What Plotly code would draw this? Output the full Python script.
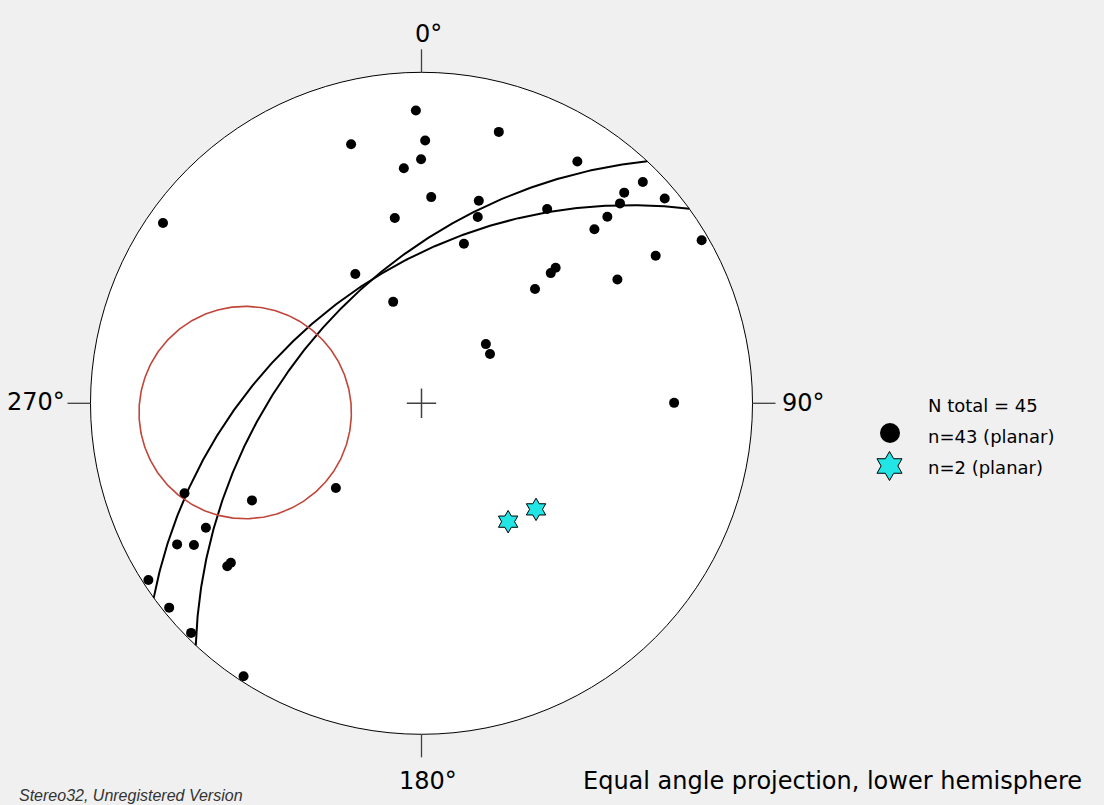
import numpy as np
import plotly.graph_objects as go

# Poles to planes, group 1 (trend, plunge in degrees)
pole_trend = [358.9, 344.8, 0.8, 15.9, 359.9, 355.7, 2.7, 15.8, 16.8, 351.8,
              14.9, 332.9, 344.4, 32.8, 45.0, 43.9, 44.8, 49.9, 32.9, 44.9,
              44.8, 59.8, 57.8, 44.7, 44.8, 44.8, 57.7, 304.9, 47.4, 54.3,
              89.9, 225.3, 249.2, 240.2, 240.0, 240.0, 238.1, 230.0, 230.1, 237.1,
              231.0, 225.1, 213.1]
pole_plunge = [7.0, 11.9, 13.1, 9.1, 17.2, 19.1, 26.1, 25.1, 29.1, 31.0,
               37.0, 42.6, 54.7, 8.0, 3.2, 7.1, 9.2, 2.3, 20.1, 13.0,
               16.9, 1.2, 10.2, 30.1, 32.0, 38.1, 20.0, 2.8, 60.4, 61.4,
               15.3, 50.0, 15.1, 28.9, 16.1, 9.1, 12.0, 15.1, 16.2, 1.0,
               1.1, 1.0, 0.9]

# Poles to planes, group 2
star_trend = [143.8, 132.8]
star_plunge = [42.2, 39.5]

# Great circles (dip direction / dip)
plane_dipdir = [313.0, 324.0]
plane_dip = [49.0, 47.0]

# Small circle: cone axis and half-apex angle
cone_trend = 267.0
cone_plunge = 37.5
cone_angle = 28.5

cardinal_az = [0, 90, 180, 270]
cardinal_labels = ["0°", "90°", "180°", "270°"]

legend_lines = ["N total = 45", "n=43 (planar)", "n=2 (planar)"]

# ---- page geometry (pixels) ----
W, H = 1104, 805
CX, CY, RPX = 421.5, 403.3, 331.0


def px(x):
    return (x - CX) / RPX


def py(y):
    return (CY - y) / RPX


def project(trend, plunge):
    """Equal-angle (Wulff) lower-hemisphere projection on a unit primitive."""
    t = np.radians(np.asarray(trend, float))
    p = np.radians(np.asarray(plunge, float))
    r = np.tan((np.pi / 2 - p) / 2)
    return r * np.sin(t), r * np.cos(t)


def vec_to_tp(v):
    v = np.asarray(v, float)
    v = np.where(v[2] < 0, -v, v)
    plunge = np.degrees(np.arcsin(np.clip(v[2], -1, 1)))
    trend = np.degrees(np.arctan2(v[1], v[0]))
    return trend, plunge


def great_circle(dipdir, dip):
    dd, dp = np.radians(dipdir), np.radians(dip)
    st = dd - np.pi / 2
    s = np.array([np.cos(st), np.sin(st), 0.0])
    d = np.array([np.cos(dd) * np.cos(dp), np.sin(dd) * np.cos(dp), np.sin(dp)])
    a = np.radians(np.linspace(0, 180, 361))
    v = np.outer(s, np.cos(a)) + np.outer(d, np.sin(a))
    return project(*vec_to_tp(v))


def small_circle(trend, plunge, half):
    t, p, c = np.radians(trend), np.radians(plunge), np.radians(half)
    u = np.array([np.cos(p) * np.cos(t), np.cos(p) * np.sin(t), np.sin(p)])
    v = np.cross(u, [0, 0, 1.0])
    v /= np.linalg.norm(v)
    w = np.cross(u, v)
    phi = np.radians(np.linspace(0, 360, 361))
    pts = (np.cos(c) * u[:, None]
           + np.sin(c) * (np.outer(v, np.cos(phi)) + np.outer(w, np.sin(phi))))
    return project(*vec_to_tp(pts))


fig = go.Figure()

# great circles
for dd, dp in zip(plane_dipdir, plane_dip):
    gx, gy = great_circle(dd, dp)
    fig.add_trace(go.Scatter(x=gx, y=gy, mode="lines",
                             line=dict(color="black", width=2),
                             hoverinfo="skip", showlegend=False))

# small circle
sx, sy = small_circle(cone_trend, cone_plunge, cone_angle)
fig.add_trace(go.Scatter(x=sx, y=sy, mode="lines",
                         line=dict(color="#c0463a", width=1.6),
                         hoverinfo="skip", showlegend=False))

# poles
ex, ey = project(pole_trend, pole_plunge)
fig.add_trace(go.Scatter(x=ex, y=ey, mode="markers",
                         marker=dict(color="black", size=10, symbol="circle"),
                         showlegend=False))

tx, ty = project(star_trend, star_plunge)
fig.add_trace(go.Scatter(x=tx, y=ty, mode="markers",
                         marker=dict(color="#22e6e6", size=17, symbol="hexagram",
                                     line=dict(color="black", width=1)),
                         showlegend=False))

# centre cross
fig.add_trace(go.Scatter(x=[0], y=[0], mode="markers",
                         marker=dict(symbol="cross-thin", size=21,
                                     line=dict(color="#404040", width=1.5)),
                         hoverinfo="skip", showlegend=False))

# legend symbols
fig.add_trace(go.Scatter(x=[px(890)], y=[py(433)], mode="markers",
                         marker=dict(color="black", size=20, symbol="circle"),
                         hoverinfo="skip", showlegend=False))
fig.add_trace(go.Scatter(x=[px(889.5)], y=[py(466)], mode="markers",
                         marker=dict(color="#22e6e6", size=22, symbol="hexagram",
                                     line=dict(color="black", width=1)),
                         hoverinfo="skip", showlegend=False))

shapes = [dict(type="circle", xref="x", yref="y", x0=-1, y0=-1, x1=1, y1=1,
               fillcolor="white", line=dict(color="black", width=1), layer="below")]
tick_len = 23 / RPX
for az in cardinal_az:
    a = np.radians(az)
    shapes.append(dict(type="line", xref="x", yref="y",
                       x0=np.sin(a), y0=np.cos(a),
                       x1=(1 + tick_len) * np.sin(a), y1=(1 + tick_len) * np.cos(a),
                       line=dict(color="#404040", width=1.3)))

font_lab = dict(family="DejaVu Sans", size=24, color="black")
label_pos = {
    "0°": (428, 34, "center"),
    "90°": (781, 403, "left"),
    "180°": (428, 781, "center"),
    "270°": (66, 402, "right"),
}
annotations = []
for lab in cardinal_labels:
    x, y, anc = label_pos[lab]
    annotations.append(dict(x=px(x), y=py(y), xref="x", yref="y", text=lab,
                            showarrow=False, xanchor=anc, yanchor="middle",
                            font=font_lab, borderpad=0))

font_leg = dict(family="DejaVu Sans", size=18, color="black")
for i, txt in enumerate(legend_lines):
    annotations.append(dict(x=px(927), y=py(405 + 31 * i), xref="x", yref="y",
                            text=txt, showarrow=False, xanchor="left",
                            yanchor="middle", font=font_leg, borderpad=0))

annotations.append(dict(x=px(1083), y=py(781), xref="x", yref="y",
                        text="Equal angle projection, lower hemisphere",
                        showarrow=False, xanchor="right", yanchor="middle",
                        font=dict(family="DejaVu Sans", size=24, color="black"),
                        borderpad=0))
annotations.append(dict(x=px(18), y=py(795), xref="x", yref="y",
                        text="<i>Stereo32, Unregistered Version</i>",
                        showarrow=False, xanchor="left", yanchor="middle",
                        font=dict(family="Liberation Sans", size=16, color="#333333"),
                        borderpad=0))

fig.update_layout(
    width=W, height=H, autosize=False,
    margin=dict(l=0, r=0, t=0, b=0),
    paper_bgcolor="#f0f0f0", plot_bgcolor="#f0f0f0",
    xaxis=dict(range=[px(0), px(W)], visible=False, fixedrange=True),
    yaxis=dict(range=[py(H), py(0)], visible=False, fixedrange=True),
    shapes=shapes, annotations=annotations,
    showlegend=False,
)

fig.write_html("out.html")
